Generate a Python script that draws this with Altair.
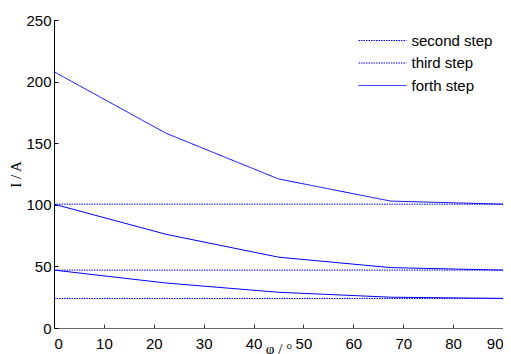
import altair as alt
import pandas as pd

# ---- data ----
angles = [0, 22.5, 45, 67.5, 90]
forth_curve = [208, 158, 121, 103, 100.5]
mid_curve = [100.5, 76, 57.5, 49, 47]
low_curve = [47, 36.5, 29, 25, 24]
x_ends = [0, 90]
second_level = 100.5
third_level = 47
low_level = 24
legend_names = ["second step", "third step", "forth step"]
x_ticks = [0, 10, 20, 30, 40, 50, 60, 70, 80, 90]
y_ticks = [0, 50, 100, 150, 200, 250]

BLUE = "#0000ff"

legend_rows = []
for x in x_ends:
    legend_rows.append({"angle": x, "current": second_level, "series": "second step"})
for x in x_ends:
    legend_rows.append({"angle": x, "current": third_level, "series": "third step"})
for x, v in zip(angles, forth_curve):
    legend_rows.append({"angle": x, "current": v, "series": "forth step"})
legend_df = pd.DataFrame(legend_rows)

dotted_df = pd.DataFrame({"angle": x_ends, "current": [low_level] * len(x_ends)})

curve_rows = []
for x, v in zip(angles, mid_curve):
    curve_rows.append({"angle": x, "current": v, "line": "mid"})
for x, v in zip(angles, low_curve):
    curve_rows.append({"angle": x, "current": v, "line": "low"})
curve_df = pd.DataFrame(curve_rows)

x_enc = alt.X(
    "angle:Q",
    scale=alt.Scale(domain=[0, 90], nice=False, zero=False),
    axis=alt.Axis(
        values=x_ticks, title="φ / °", grid=False,
        tickSize=alt.ExprRef(expr="-4"), labelPadding=12,
        titleFont="Liberation Serif", titleFontSize=15, titleFontWeight="normal",
        titleBaseline="alphabetic", titleY=25, domainColor="#666666",
        tickColor="#333333",
    ),
)
y_enc = alt.Y(
    "current:Q",
    scale=alt.Scale(domain=[0, 250], nice=False),
    axis=alt.Axis(
        values=y_ticks, title="I / A", grid=False,
        tickSize=alt.ExprRef(expr="-4"), labelPadding=7,
        titleFont="Liberation Serif", titleFontSize=15, titleFontWeight="normal",
        titlePadding=2, domainColor="#000000", tickColor="#000000",
    ),
)

main = alt.Chart(legend_df).mark_line(color=BLUE, strokeWidth=1).encode(
    x=x_enc,
    y=y_enc,
    strokeDash=alt.StrokeDash(
        "series:N",
        scale=alt.Scale(domain=legend_names, range=[[1.5, 1], [1.5, 1], [1, 0]]),
        legend=alt.Legend(
            title=None, orient="none", legendX=320.5, legendY=12.5,
            symbolType="M-3.2,0H3.2", symbolSize=225,
            symbolStrokeColor=BLUE, symbolStrokeWidth=1,
            labelOffset=21, labelFont="Liberation Sans", labelFontSize=15,
            labelColor="#000000", rowPadding=6.5, padding=0,
        ),
    ),
)

dotted = alt.Chart(dotted_df).mark_line(color=BLUE, strokeWidth=1, strokeDash=[1.5, 1]).encode(
    x="angle:Q", y="current:Q"
)

curves = alt.Chart(curve_df).mark_line(color=BLUE, strokeWidth=1).encode(
    x="angle:Q", y="current:Q", detail="line:N"
)

chart = (
    alt.layer(main, dotted, curves)
    .properties(
        width=449, height=308,
        autosize=alt.AutoSizeParams(type="none"),
        padding={"left": 46, "top": 12, "right": 0, "bottom": 26},
        background="white",
    )
    .configure_view(stroke=None)
    .configure_axis(
        labelFont="Liberation Sans", labelFontSize=15, labelColor="#000000",
        titleColor="#000000",
    )
)

chart.save("out.html", embed_options={"renderer": "svg", "actions": False})
